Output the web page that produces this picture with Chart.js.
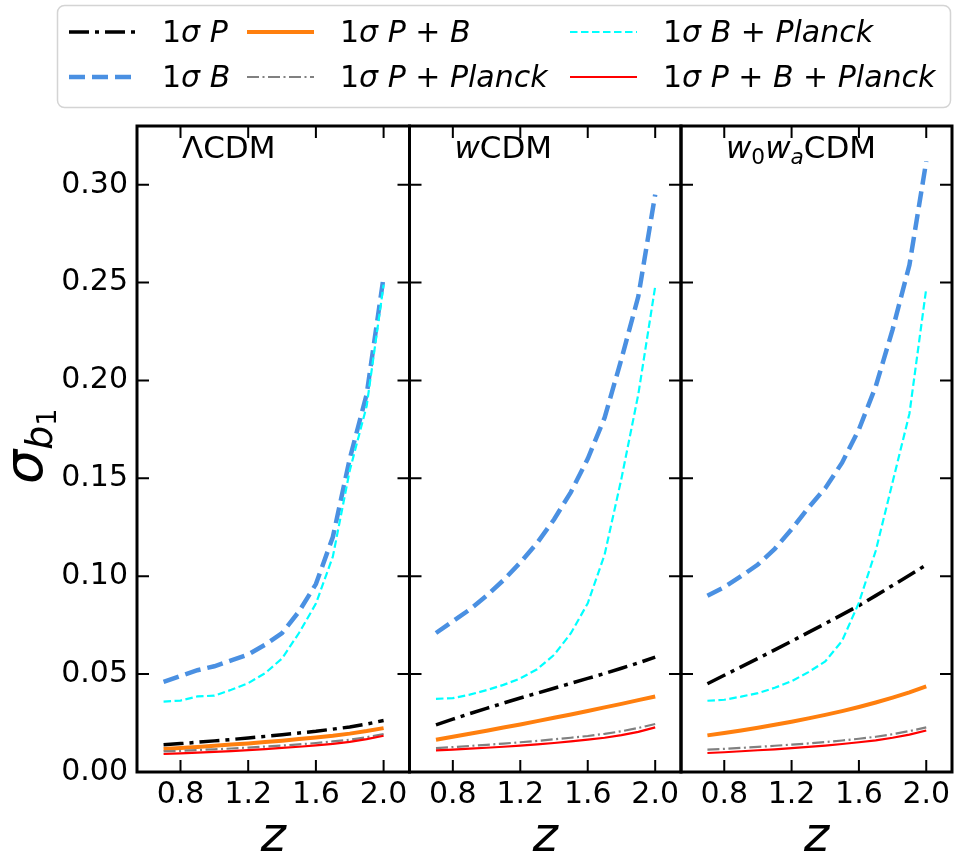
<!DOCTYPE html>
<html><head><meta charset="utf-8">
<script src="https://cdn.jsdelivr.net/npm/chart.js@4.4.1/dist/chart.umd.min.js"></script>
<style>
html,body{margin:0;padding:0;background:#fff;width:956px;height:857px;overflow:hidden}
canvas{position:absolute;left:0;top:0}
</style></head>
<body>
<canvas id="c0" width="956" height="857"></canvas>
<canvas id="c1" width="956" height="857"></canvas>
<canvas id="c2" width="956" height="857"></canvas>
<script>
// ---------------- data ----------------
const z = [0.7,0.8,0.9,1.0,1.1,1.2,1.3,1.4,1.5,1.6,1.7,1.8,1.9,2.0];
const xTicks = [0.8,1.2,1.6,2.0];
const yTicks = [0.00,0.05,0.10,0.15,0.20,0.25,0.30];
const seriesLabels = ['1σ P','1σ B','1σ P + B','1σ P + Planck','1σ B + Planck','1σ P + B + Planck'];
const panelTitles = ['ΛCDM','wCDM','w_0w_aCDM'];
const xLabel = 'z';

// ΛCDM
const lcdm_P    = [0.0139,0.0145,0.0152,0.0159,0.0166,0.0174,0.0182,0.0190,0.0199,0.0208,0.0219,0.0230,0.0245,0.0263];
const lcdm_B    = [0.046,0.049,0.052,0.054,0.057,0.060,0.065,0.071,0.082,0.096,0.120,0.160,0.193,0.253];
const lcdm_PB   = [0.0118,0.0123,0.0128,0.0134,0.0140,0.0146,0.0153,0.0160,0.0168,0.0176,0.0185,0.0196,0.0209,0.0224];
const lcdm_PPl  = [0.0105,0.0108,0.0112,0.0116,0.0120,0.0125,0.0130,0.0135,0.0141,0.0148,0.0156,0.0165,0.0178,0.0194];
const lcdm_BPl  = [0.0360,0.0365,0.0386,0.0390,0.0420,0.0454,0.0505,0.0580,0.0710,0.0860,0.110,0.154,0.187,0.249];
const lcdm_PBPl = [0.0092,0.0095,0.0099,0.0103,0.0107,0.0112,0.0117,0.0123,0.0129,0.0136,0.0144,0.0154,0.0168,0.0185];
// wCDM
const wcdm_P    = [0.0241,0.0270,0.0298,0.0325,0.0352,0.0378,0.0403,0.0428,0.0453,0.0478,0.0503,0.0530,0.0557,0.0587];
const wcdm_B    = [0.071,0.077,0.083,0.090,0.098,0.107,0.117,0.129,0.143,0.160,0.181,0.211,0.243,0.295];
const wcdm_PB   = [0.0165,0.0180,0.0195,0.0211,0.0227,0.0243,0.0260,0.0277,0.0294,0.0312,0.0330,0.0348,0.0367,0.0386];
const wcdm_PPl  = [0.0122,0.0127,0.0133,0.0139,0.0145,0.0152,0.0159,0.0167,0.0175,0.0184,0.0195,0.0208,0.0225,0.0245];
const wcdm_BPl  = [0.0374,0.0377,0.0395,0.0418,0.0445,0.0478,0.0525,0.0598,0.0709,0.0862,0.111,0.150,0.193,0.248];
const wcdm_PBPl = [0.0110,0.0114,0.0119,0.0124,0.0129,0.0135,0.0141,0.0148,0.0156,0.0165,0.0175,0.0188,0.0205,0.0228];
// w0waCDM
const w0wa_P    = [0.0451,0.0494,0.0537,0.0580,0.0624,0.0668,0.0713,0.0758,0.0804,0.0850,0.0901,0.0953,0.1005,0.1058];
const w0wa_B    = [0.090,0.0944,0.100,0.106,0.114,0.124,0.135,0.145,0.158,0.175,0.197,0.226,0.259,0.312];
const w0wa_PB   = [0.0187,0.0199,0.0212,0.0226,0.0241,0.0257,0.0274,0.0292,0.0311,0.0332,0.0355,0.0380,0.0407,0.0437];
const w0wa_PPl  = [0.0114,0.0118,0.0123,0.0128,0.0134,0.0140,0.0146,0.0153,0.0161,0.0170,0.0180,0.0193,0.0209,0.0228];
const w0wa_BPl  = [0.0364,0.0369,0.0385,0.0403,0.0430,0.0464,0.0510,0.0565,0.0670,0.0865,0.113,0.148,0.183,0.247];
const w0wa_PBPl = [0.0097,0.0101,0.0106,0.0111,0.0116,0.0122,0.0128,0.0135,0.0143,0.0152,0.0162,0.0175,0.0191,0.0212];

const panelSeries = [
  [lcdm_P, lcdm_B, lcdm_PB, lcdm_PPl, lcdm_BPl, lcdm_PBPl],
  [wcdm_P, wcdm_B, wcdm_PB, wcdm_PPl, wcdm_BPl, wcdm_PBPl],
  [w0wa_P, w0wa_B, w0wa_PB, w0wa_PPl, w0wa_BPl, w0wa_PBPl]
];

// ---------------- styles / layout ----------------
const FONT = '"DejaVu Sans", "Liberation Sans", sans-serif';
const styles = [
  {color:'#000000', width:3.5, dash:[20,6,4,6]},
  {color:'#4a90e2', width:4.5, dash:[16,7]},
  {color:'#ff7f0e', width:4,   dash:[]},
  {color:'#808080', width:2.2, dash:[12,3.5,2,3.5]},
  {color:'#00ffff', width:2.2, dash:[7.5,3.5]},
  {color:'#ff0000', width:2.2, dash:[]}
];
const panels = [{L:137,R:409.5},{L:409.5,R:681},{L:681,R:952}];
const TOP = 126, BOTTOM = 772, W = 956, H = 857;
const X_MIN = 0.543, X_MAX = 2.153, Y_MIN = 0, Y_MAX = 0.33;

Chart.defaults.font.family = FONT;

function drawRich(ctx, str, x, y, size, italicRule) {
  let i = 0;
  while (i < str.length) {
    let ch = str[i], sub = false;
    if (ch === '_') { sub = true; ch = str[i+1]; i += 2; } else { i++; }
    const it = italicRule(ch);
    const fs = sub ? size*0.7 : size;
    ctx.font = (it ? 'italic ' : '') + fs + 'px ' + FONT;
    ctx.fillText(ch, x, sub ? y + size*0.2 : y);
    x += ctx.measureText(ch).width;
  }
  return x;
}
const legendItalic = ch => /[A-Za-zα-ωΑ-Ω]/.test(ch) && ch !== 'Λ';
const titleItalic = ch => /[a-z]/.test(ch);

const framePlugin = {
  id: 'frame',
  afterDatasetsDraw(chart) {
    const {ctx, chartArea:a, scales:{x, y}} = chart;
    const idx = chart.options.plugins.frame.panel;
    ctx.save();
    ctx.strokeStyle = '#000';
    ctx.lineWidth = 2;
    ctx.beginPath();
    x.ticks.forEach(t => {
      const px = x.getPixelForValue(t.value);
      ctx.moveTo(px, a.bottom); ctx.lineTo(px, a.bottom - 12);
      ctx.moveTo(px, a.top); ctx.lineTo(px, a.top + 12);
    });
    y.ticks.forEach(t => {
      const py = y.getPixelForValue(t.value);
      ctx.moveTo(a.left, py); ctx.lineTo(a.left + 12, py);
      ctx.moveTo(a.right, py); ctx.lineTo(a.right - 12, py);
    });
    ctx.stroke();
    ctx.lineWidth = 3;
    ctx.strokeRect(a.left, a.top, a.right - a.left, a.bottom - a.top);
    // panel title
    ctx.fillStyle = '#000';
    ctx.textBaseline = 'alphabetic';
    ctx.textAlign = 'left';
    drawRich(ctx, panelTitles[idx], a.left + 45, 158, 31, titleItalic);
    // x label
    ctx.font = 'italic 48px ' + FONT;
    ctx.textAlign = 'center';
    ctx.fillText(xLabel, (a.left + a.right)/2, 851);
    if (idx === 0) {
      // y label sigma_{b_1}
      ctx.save();
      ctx.translate(42, 484);
      ctx.rotate(-Math.PI/2);
      ctx.textAlign = 'left';
      ctx.font = 'italic 54px ' + FONT;
      ctx.fillText('σ', 0, 0);
      let w = ctx.measureText('σ').width;
      ctx.font = 'italic 38px ' + FONT;
      ctx.fillText('b', w, 10);
      w += ctx.measureText('b').width;
      ctx.font = '27px ' + FONT;
      ctx.fillText('1', w, 14);
      ctx.restore();
      // legend
      ctx.save();
      ctx.beginPath();
      ctx.roundRect(57.5, 5.5, 893, 102, 7);
      ctx.fillStyle = 'rgba(255,255,255,0.8)';
      ctx.fill();
      ctx.strokeStyle = '#d4d4d4';
      ctx.lineWidth = 1.5;
      ctx.stroke();
      const cols = [69, 247, 570], rows = [32, 77];
      seriesLabels.forEach((lab, k) => {
        const cx = cols[Math.floor(k/2)], cy = rows[k%2];
        const st = styles[k];
        ctx.beginPath();
        ctx.setLineDash(st.dash);
        ctx.strokeStyle = st.color;
        ctx.lineWidth = st.width;
        ctx.moveTo(cx, cy); ctx.lineTo(cx + 67, cy);
        ctx.stroke();
        ctx.setLineDash([]);
        ctx.fillStyle = '#000';
        ctx.textAlign = 'left';
        ctx.textBaseline = 'alphabetic';
        drawRich(ctx, lab, cx + 93, cy + 10, 30, legendItalic);
      });
      ctx.restore();
    }
    ctx.restore();
  }
};

function makeChart(i) {
  const P = panels[i];
  const datasets = panelSeries[i].map((arr, k) => ({
    label: seriesLabels[k],
    data: z.map((zz, j) => ({x: zz, y: arr[j]})),
    borderColor: styles[k].color,
    borderWidth: styles[k].width,
    borderDash: styles[k].dash,
    borderCapStyle: 'butt',
    pointRadius: 0,
    tension: 0,
    fill: false,
    order: -k
  }));
  return new Chart(document.getElementById('c' + i), {
    type: 'line',
    data: {datasets},
    options: {
      responsive: false,
      animation: false,
      events: [],
      layout: {padding: {left: i === 0 ? 0 : P.L, right: W - P.R, top: TOP, bottom: 0}},
      plugins: {legend: {display: false}, tooltip: {enabled: false}, frame: {panel: i}},
      scales: {
        x: {
          type: 'linear', min: X_MIN, max: X_MAX,
          afterBuildTicks: s => { s.ticks = xTicks.map(v => ({value: v})); },
          afterFit: s => { s.height = H - BOTTOM; },
          grid: {display: false, drawTicks: false},
          border: {display: false},
          ticks: {font: {family: FONT, size: 30}, color: '#000', padding: 5, maxRotation: 0, autoSkip: false,
                  callback: v => Number(v).toFixed(1)}
        },
        y: {
          type: 'linear', min: Y_MIN, max: Y_MAX,
          afterBuildTicks: s => { s.ticks = yTicks.map(v => ({value: v})); },
          afterFit: s => { s.width = i === 0 ? P.L : 0; },
          grid: {display: false, drawTicks: false},
          border: {display: false},
          ticks: {display: i === 0, font: {family: FONT, size: 30}, color: '#000', padding: 9,
                  callback: v => Number(v).toFixed(2)}
        }
      }
    },
    plugins: [framePlugin]
  });
}
[0,1,2].forEach(makeChart);
</script>
</body></html>
